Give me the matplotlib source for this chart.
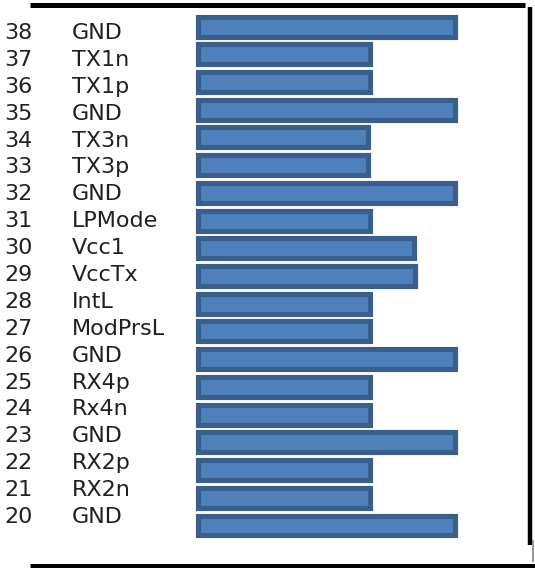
import matplotlib
matplotlib.use("Agg")
import matplotlib.pyplot as plt
from matplotlib.lines import Line2D

# ---- data (top to bottom) ----
pins = [38, 37, 36, 35, 34, 33, 32, 31, 30, 29, 28, 27, 26, 25, 24, 23, 22, 21, 20]
names = ["GND", "TX1n", "TX1p", "GND", "TX3n", "TX3p", "GND", "LPMode", "Vcc1",
         "VccTx", "IntL", "ModPrsL", "GND", "RX4p", "Rx4n", "GND", "RX2p", "RX2n", "GND"]
lengths = [100, 67, 67, 100, 66, 66, 100, 67, 84, 84.5, 67, 67, 100, 67, 67, 100, 67, 67, 100]

W, H = 535, 568
fig = plt.figure(figsize=(W / 100, H / 100), dpi=100)
fig.patch.set_facecolor("white")

# bar axes
ax = fig.add_axes([0, 0, 1, 1])
ax.axis("off")
xpx = 2.57      # pixels per unit
ypx = 27.72     # pixels per row
x0 = 198.0      # pixel of value 0
y0 = 42.5       # pixel (from bottom) of lowest row
ax.set_xlim(-x0 / xpx, (W - x0) / xpx)
ax.set_ylim(-y0 / ypx, (H - y0) / ypx)

rows = [p - 20 for p in pins]
ax.barh(rows, lengths, left=0, height=0.72, color="#4F81BD",
        edgecolor="#3A5F8D", linewidth=3.7)

# label axes
lax = fig.add_axes([0, 0, 1, 1], facecolor="none")
lax.axis("off")
lpx = 26.89
lb = 45.0
lax.set_xlim(0, 1)
lax.set_ylim(-lb / lpx, (H - lb) / lpx)
for p, n, r in zip(pins, names, rows):
    lax.text(4 / W, r, str(p), ha="left", va="baseline", fontsize=16,
             family="DejaVu Sans", color="#202020")
    lax.text(72 / W, r, n, ha="left", va="baseline", fontsize=16,
             family="DejaVu Sans", color="#202020")

# frame lines
fig.add_artist(Line2D([30 / W, 525 / W], [1 - 5 / H, 1 - 5 / H], lw=3.6, color="black",
                      solid_capstyle="butt"))
fig.add_artist(Line2D([530 / W, 530 / W], [1 - 7 / H, 1 - 545 / H], lw=3.2, color="black",
                      solid_capstyle="butt"))
fig.add_artist(Line2D([533 / W, 533 / W], [1 - 540 / H, 1 - 562 / H], lw=1.2, color="#888888",
                      solid_capstyle="butt"))
fig.add_artist(Line2D([30 / W, 535 / W], [1 - 565.5 / H, 1 - 565.5 / H], lw=3.6, color="black",
                      solid_capstyle="butt"))

fig.savefig("out.png", dpi=100)
